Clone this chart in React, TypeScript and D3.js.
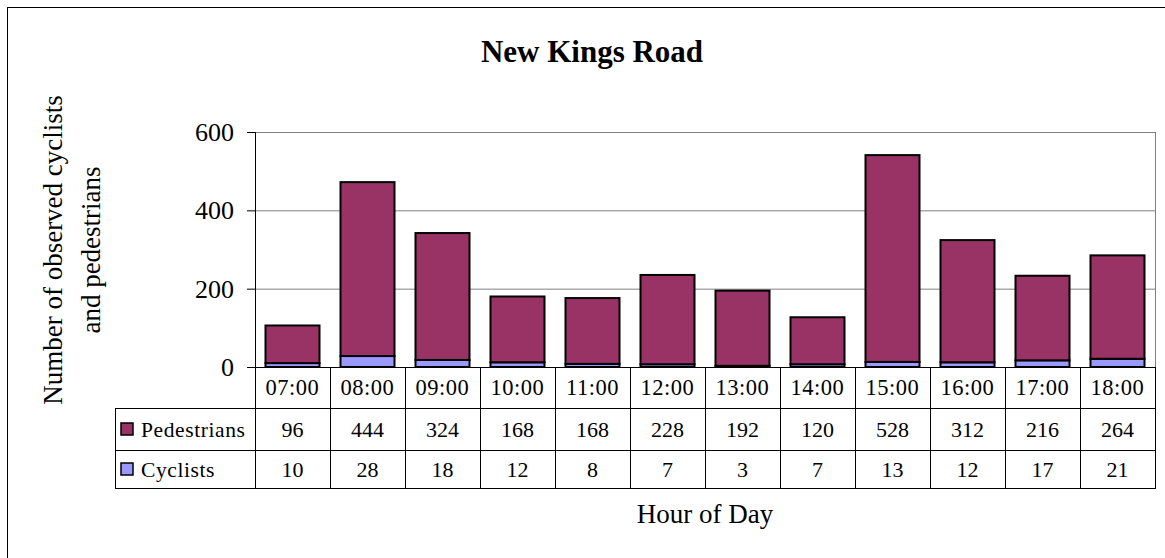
import React from "react";
import * as d3 from "d3";

const categories = ["07:00", "08:00", "09:00", "10:00", "11:00", "12:00", "13:00", "14:00", "15:00", "16:00", "17:00", "18:00"];
const pedestrians = [96, 444, 324, 168, 168, 228, 192, 120, 528, 312, 216, 264];
const cyclists = [10, 28, 18, 12, 8, 7, 3, 7, 13, 12, 17, 21];
const yTicks = [0, 200, 400, 600];

const seriesInfo = [
  { key: "cyclists", label: "Cyclists", color: "#9999ff", values: cyclists },
  { key: "pedestrians", label: "Pedestrians", color: "#993366", values: pedestrians },
];

const width = 1165;
const height = 558;
const font = "Liberation Serif, Times New Roman, DejaVu Serif, serif";

const App = () => {
  const plot = { left: 255, right: 1155, top: 132, bottom: 367 };
  const rowCat = 408;
  const rowPed = 450;
  const rowCyc = 488;
  const legendLeft = 115;

  const x = d3.scaleBand().domain(categories).range([plot.left, plot.right]).paddingInner(0.28).paddingOuter(0.14);
  const step = x.step();
  const y = d3.scaleLinear().domain([0, 600]).range([plot.bottom, plot.top]);

  const table = categories.map((c, i) => ({ cat: c, cyclists: cyclists[i], pedestrians: pedestrians[i] }));
  const stacked = d3.stack().keys(["cyclists", "pedestrians"])(table);

  const cellLeft = (c) => x(c) - x.paddingOuter() * step;

  // rows shown in the table, top to bottom
  const tableRows = [
    { info: seriesInfo[1], top: rowCat, bottom: rowPed },
    { info: seriesInfo[0], top: rowPed, bottom: rowCyc },
  ];

  return (
    <svg width={width} height={height} style={{ position: "absolute", left: 0, top: 0, background: "#fff", fontFamily: font }}>
      <rect x={7.5} y={7.5} width={width} height={height} fill="#fff" stroke="#000" strokeWidth={1} />

      <text x={592} y={62} textAnchor="middle" fontSize={31} fontWeight="bold" style={{ fontFamily: font }}>New Kings Road</text>

      {/* gridlines */}
      {yTicks.filter(t => t > 0).map(t => (
        <line key={t} x1={plot.left} x2={plot.right} y1={y(t) + 0.5} y2={y(t) + 0.5} stroke="#808080" strokeWidth={1} />
      ))}
      <line x1={plot.right + 0.5} x2={plot.right + 0.5} y1={plot.top} y2={plot.bottom} stroke="#808080" strokeWidth={1} />

      {/* bars */}
      {stacked.map((s, si) => (
        <g key={s.key}>
          {s.map((d, i) => (
            <rect key={i} x={x(categories[i])} y={y(d[1])} width={x.bandwidth()} height={y(d[0]) - y(d[1])}
              fill={seriesInfo[si].color} stroke="#000" strokeWidth={2} />
          ))}
        </g>
      ))}

      {/* y axis */}
      <line x1={plot.left + 0.5} x2={plot.left + 0.5} y1={plot.top} y2={plot.bottom} stroke="#000" strokeWidth={1} />
      {yTicks.map(t => (
        <g key={t}>
          <line x1={plot.left - 8} x2={plot.left} y1={y(t) + 0.5} y2={y(t) + 0.5} stroke="#000" strokeWidth={1} />
          <text x={234} y={y(t)} dy="0.35em" textAnchor="end" fontSize={26} style={{ fontFamily: font }}>{t}</text>
        </g>
      ))}

      {/* data table */}
      <g stroke="#000" strokeWidth={1}>
        <line x1={plot.left} x2={plot.right + 1} y1={plot.bottom + 0.5} y2={plot.bottom + 0.5} />
        {[rowCat, rowPed, rowCyc].map(r => (
          <line key={r} x1={legendLeft} x2={plot.right + 1} y1={r + 0.5} y2={r + 0.5} />
        ))}
        <line x1={legendLeft + 0.5} x2={legendLeft + 0.5} y1={rowCat} y2={rowCyc + 1} />
        {categories.map(c => (
          <line key={c} x1={cellLeft(c) + 0.5} x2={cellLeft(c) + 0.5} y1={plot.bottom} y2={rowCyc + 1} />
        ))}
        <line x1={plot.right + 0.5} x2={plot.right + 0.5} y1={plot.bottom} y2={rowCyc + 1} />
      </g>

      {categories.map(c => (
        <text key={c} x={x(c) + x.bandwidth() / 2} y={(plot.bottom + rowCat) / 2} dy="0.35em" textAnchor="middle" fontSize={22.5} letterSpacing={0.5} style={{ fontFamily: font }}>{c}</text>
      ))}

      {tableRows.map(r => (
        <g key={r.info.key}>
          <rect x={121} y={(r.top + r.bottom) / 2 - 6} width={12} height={12} fill={r.info.color} stroke="#000" strokeWidth={1.5} />
          <text x={141} y={(r.top + r.bottom) / 2} dy="0.35em" fontSize={21.5} letterSpacing={0.6} style={{ fontFamily: font }}>{r.info.label}</text>
          {r.info.values.map((v, i) => (
            <text key={i} x={x(categories[i]) + x.bandwidth() / 2} y={(r.top + r.bottom) / 2} dy="0.35em" textAnchor="middle" fontSize={22} style={{ fontFamily: font }}>{v}</text>
          ))}
        </g>
      ))}

      {/* axis titles */}
      <text transform="translate(62,250) rotate(-90)" textAnchor="middle" fontSize={27} style={{ fontFamily: font }}>Number of observed cyclists</text>
      <text transform="translate(100,250) rotate(-90)" textAnchor="middle" fontSize={27} style={{ fontFamily: font }}>and pedestrians</text>
      <text x={(plot.left + plot.right) / 2} y={523} textAnchor="middle" fontSize={27} style={{ fontFamily: font }}>Hour of Day</text>
    </svg>
  );
};

export default App;
